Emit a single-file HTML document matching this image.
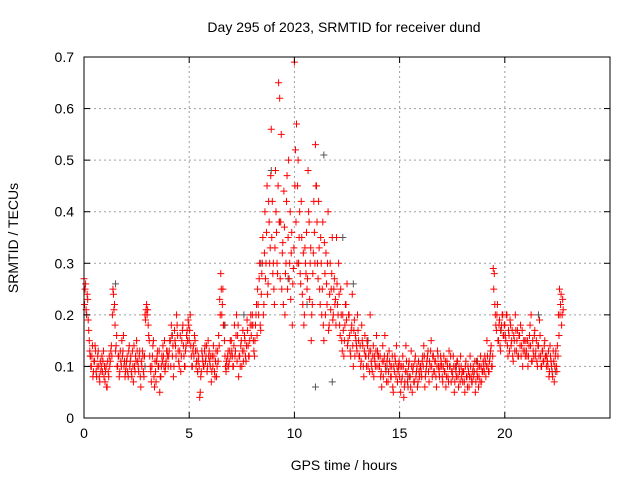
<!DOCTYPE html>
<html><head><meta charset="utf-8"><style>
body{margin:0;background:#fff}
svg{display:block;font-family:"Liberation Sans",sans-serif}
</style></head><body>
<svg id="chart" width="640" height="480" viewBox="0 0 640 480">
<rect x="0" y="0" width="640" height="480" fill="#fff"/>
<g id="grid"></g>
<g id="grey-series"></g>
<g id="red-series"></g>
<rect x="84" y="57" width="526" height="361" fill="none" stroke="#000" stroke-width="1"/>
<g id="axes"></g>
<text x="344" y="32" text-anchor="middle" font-size="14">Day 295 of 2023, SRMTID for receiver dund</text>
<text x="344" y="470" text-anchor="middle" font-size="14">GPS time / hours</text>
<text transform="translate(18,238) rotate(-90)" text-anchor="middle" font-size="14">SRMTID / TECUs</text>
</svg>
<script>
const xTicks=[0,5,10,15,20];
const yTicks=[0,0.1,0.2,0.3,0.4,0.5,0.6,0.7];
const yTickLabels=["0","0.1","0.2","0.3","0.4","0.5","0.6","0.7"];
// Series A: sampled every 0.05 h starting at 0 h
const seriesAStart=0, seriesAStep=0.05;
const seriesAValues=[
0.27,0.25,0.21,0.24,0.19,0.15,0.12,0.1,0.14,0.09,0.11,0.13,0.08,0.12,0.1,0.07,0.09,0.12,0.11,0.08,
0.07,0.1,0.06,0.09,0.12,0.11,0.14,0.2,0.24,0.22,0.13,0.16,0.1,0.12,0.09,0.11,0.15,0.13,0.1,0.08,
0.1,0.12,0.08,0.14,0.11,0.09,0.13,0.07,0.1,0.12,0.15,0.11,0.09,0.13,0.06,0.1,0.12,0.08,0.2,0.21,
0.2,0.18,0.15,0.1,0.07,0.12,0.15,0.06,0.09,0.11,0.13,0.1,0.05,0.08,0.12,0.14,0.1,0.09,0.11,0.13,
0.1,0.13,0.15,0.18,0.12,0.08,0.17,0.14,0.2,0.16,0.11,0.13,0.09,0.15,0.18,0.12,0.1,0.14,0.17,0.19,
0.15,0.2,0.12,0.1,0.14,0.16,0.13,0.11,0.09,0.12,0.04,0.08,0.13,0.11,0.1,0.14,0.12,0.09,0.15,0.13,
0.1,0.07,0.12,0.14,0.09,0.11,0.08,0.13,0.16,0.23,0.28,0.2,0.25,0.18,0.12,0.09,0.1,0.13,0.11,0.15,
0.15,0.12,0.1,0.18,0.13,0.2,0.16,0.08,0.12,0.14,0.1,0.17,0.13,0.15,0.11,0.19,0.14,0.12,0.18,0.16,
0.2,0.15,0.12,0.18,0.22,0.25,0.2,0.3,0.17,0.28,0.35,0.22,0.4,0.3,0.45,0.26,0.38,0.33,0.56,0.42,
0.3,0.22,0.48,0.36,0.28,0.65,0.62,0.38,0.25,0.34,0.44,0.2,0.3,0.47,0.35,0.27,0.4,0.32,0.18,0.29,
0.69,0.52,0.57,0.45,0.3,0.4,0.26,0.35,0.22,0.18,0.33,0.28,0.25,0.48,0.38,0.3,0.15,0.22,0.32,0.36,
0.53,0.45,0.3,0.42,0.25,0.35,0.2,0.38,0.15,0.28,0.32,0.22,0.4,0.18,0.3,0.25,0.35,0.2,0.27,0.23,
0.35,0.22,0.3,0.18,0.25,0.15,0.2,0.12,0.18,0.22,0.26,0.15,0.2,0.13,0.17,0.24,0.1,0.19,0.16,0.14,
0.2,0.15,0.12,0.1,0.18,0.14,0.08,0.16,0.12,0.15,0.1,0.13,0.2,0.11,0.09,0.14,0.12,0.1,0.16,0.13,
0.12,0.1,0.08,0.06,0.14,0.11,0.16,0.09,0.11,0.07,0.13,0.1,0.08,0.12,0.05,0.09,0.11,0.14,0.07,0.1,
0.08,0.05,0.1,0.12,0.04,0.07,0.14,0.09,0.06,0.11,0.08,0.13,0.05,0.1,0.07,0.12,0.09,0.06,0.11,0.08,
0.1,0.08,0.12,0.14,0.06,0.09,0.11,0.13,0.07,0.1,0.15,0.08,0.12,0.09,0.11,0.06,0.13,0.1,0.08,0.12,
0.1,0.07,0.12,0.09,0.06,0.11,0.08,0.13,0.1,0.07,0.09,0.12,0.05,0.1,0.08,0.11,0.06,0.09,0.12,0.08,
0.07,0.09,0.05,0.11,0.08,0.1,0.06,0.12,0.08,0.07,0.1,0.09,0.05,0.11,0.08,0.06,0.1,0.12,0.07,0.09,
0.1,0.12,0.08,0.15,0.1,0.09,0.12,0.14,0.1,0.29,0.28,0.2,0.17,0.22,0.15,0.19,0.13,0.18,0.2,0.16,
0.18,0.15,0.2,0.12,0.16,0.19,0.14,0.17,0.11,0.15,0.2,0.13,0.17,0.12,0.16,0.18,0.14,0.1,0.15,0.13,
0.15,0.12,0.1,0.14,0.18,0.2,0.11,0.13,0.16,0.12,0.15,0.1,0.14,0.19,0.12,0.1,0.13,0.11,0.15,0.12,
0.12,0.1,0.08,0.14,0.11,0.09,0.13,0.07,0.12,0.1,0.14,0.2,0.25,0.22,0.18,0.23];
// Series B: sampled every 0.05 h starting at 0.025 h
const seriesBStart=0.025, seriesBStep=0.05;
const seriesBValues=[
0.22,0.26,0.2,0.23,0.17,0.13,0.1,0.12,0.08,0.11,0.14,0.09,0.1,0.13,0.08,0.11,0.1,0.09,0.13,0.1,
0.09,0.06,0.11,0.08,0.1,0.13,0.12,0.25,0.21,0.18,0.14,0.1,0.12,0.08,0.13,0.1,0.12,0.16,0.11,0.09,
0.11,0.09,0.13,0.1,0.12,0.08,0.1,0.14,0.09,0.11,0.13,0.1,0.12,0.08,0.11,0.13,0.09,0.12,0.19,0.22,
0.21,0.16,0.12,0.09,0.1,0.14,0.08,0.11,0.07,0.12,0.1,0.13,0.08,0.1,0.11,0.12,0.15,0.1,0.13,0.12,
0.12,0.15,0.1,0.16,0.14,0.1,0.15,0.12,0.18,0.13,0.1,0.16,0.12,0.17,0.14,0.1,0.13,0.16,0.15,0.18,
0.17,0.14,0.1,0.13,0.12,0.15,0.1,0.13,0.11,0.1,0.05,0.09,0.12,0.1,0.13,0.11,0.14,0.1,0.12,0.11,
0.12,0.09,0.1,0.12,0.08,0.13,0.1,0.11,0.14,0.2,0.25,0.22,0.18,0.15,0.1,0.11,0.12,0.1,0.13,0.12,
0.13,0.1,0.14,0.12,0.16,0.11,0.18,0.12,0.1,0.15,0.13,0.11,0.16,0.12,0.14,0.17,0.12,0.15,0.2,0.18,
0.18,0.13,0.15,0.2,0.16,0.22,0.27,0.18,0.24,0.3,0.2,0.32,0.27,0.36,0.24,0.42,0.3,0.47,0.35,0.28,
0.25,0.33,0.4,0.3,0.45,0.38,0.27,0.55,0.32,0.22,0.37,0.28,0.42,0.25,0.5,0.3,0.23,0.36,0.26,0.33,
0.45,0.38,0.3,0.5,0.35,0.28,0.42,0.24,0.32,0.2,0.3,0.36,0.27,0.4,0.23,0.33,0.2,0.28,0.42,0.3,
0.45,0.38,0.27,0.33,0.22,0.3,0.25,0.18,0.34,0.2,0.26,0.3,0.17,0.24,0.21,0.28,0.19,0.25,0.22,0.18,
0.26,0.2,0.24,0.16,0.2,0.13,0.17,0.15,0.22,0.19,0.14,0.2,0.16,0.12,0.18,0.14,0.17,0.12,0.15,0.13,
0.17,0.12,0.14,0.11,0.15,0.1,0.13,0.12,0.1,0.14,0.12,0.09,0.13,0.1,0.12,0.08,0.11,0.13,0.1,0.12,
0.1,0.12,0.09,0.11,0.08,0.12,0.1,0.07,0.12,0.09,0.11,0.08,0.1,0.06,0.1,0.12,0.08,0.1,0.09,0.11,
0.1,0.07,0.08,0.1,0.06,0.09,0.11,0.07,0.1,0.08,0.06,0.1,0.09,0.07,0.11,0.08,0.1,0.07,0.09,0.1,
0.09,0.11,0.1,0.12,0.08,0.1,0.12,0.09,0.11,0.13,0.1,0.12,0.09,0.11,0.08,0.1,0.12,0.09,0.1,0.11,
0.08,0.1,0.09,0.11,0.08,0.1,0.07,0.1,0.12,0.09,0.08,0.1,0.07,0.09,0.11,0.08,0.1,0.07,0.1,0.09,
0.09,0.07,0.1,0.08,0.06,0.09,0.08,0.1,0.07,0.09,0.08,0.11,0.07,0.09,0.1,0.08,0.07,0.1,0.09,0.11,
0.09,0.11,0.1,0.12,0.09,0.11,0.13,0.1,0.12,0.25,0.22,0.18,0.2,0.15,0.18,0.14,0.17,0.2,0.16,0.18,
0.16,0.2,0.14,0.17,0.13,0.18,0.15,0.12,0.16,0.13,0.17,0.15,0.12,0.16,0.14,0.12,0.17,0.13,0.15,0.12,
0.13,0.15,0.12,0.16,0.14,0.11,0.15,0.12,0.17,0.13,0.11,0.14,0.12,0.16,0.1,0.13,0.11,0.14,0.12,0.1,
0.11,0.13,0.09,0.12,0.1,0.08,0.11,0.1,0.13,0.09,0.12,0.16,0.2,0.24,0.2,0.21];
const greyX=[0.3,1.5,2.9,4.2,5.4,6.7,7.6,8.4,8.9,9.3,9.7,10.2,10.6,11.0,11.4,11.8,12.3,12.8,13.5,14.4,15.4,16.6,17.7,18.7,19.8,20.7,21.6,22.4];
const greyY=[0.12,0.26,0.1,0.16,0.09,0.18,0.2,0.3,0.48,0.38,0.27,0.3,0.22,0.06,0.51,0.07,0.35,0.26,0.15,0.1,0.08,0.12,0.1,0.11,0.17,0.16,0.2,0.09];
const X0=84,X1=610,Y0=418,Y1=57,XMAX=25,YMAX=0.7;
const sx=v=>X0+(X1-X0)*v/XMAX;
const sy=v=>Y0-(Y0-Y1)*v/YMAX;
const NS="http://www.w3.org/2000/svg";
const grid=document.getElementById('grid'),axes=document.getElementById('axes');
function mk(tag,attrs,parent){const e=document.createElementNS(NS,tag);for(const k in attrs)e.setAttribute(k,attrs[k]);parent.appendChild(e);return e;}
xTicks.forEach(t=>{
  const x=sx(t);
  if(t>0){const g=mk('line',{x1:x,y1:Y0,x2:x,y2:Y1,stroke:'#a0a0a0','stroke-dasharray':'2,3'},grid);
  
  }
  mk('line',{x1:x,y1:Y0,x2:x,y2:Y0-6,stroke:'#000'},axes);
  mk('line',{x1:x,y1:Y1,x2:x,y2:Y1+6,stroke:'#000'},axes);
  const tx=mk('text',{x:x,y:Y0+20,'text-anchor':'middle','font-size':'14'},axes);
  tx.textContent=String(t);
  
  
});
yTicks.forEach((t,i)=>{
  const y=sy(t);
  if(t>0&&t<0.7){const g=mk('line',{x1:X0,y1:y,x2:X1,y2:y,stroke:'#a0a0a0','stroke-dasharray':'2,3'},grid);
  
  }
  mk('line',{x1:X0,y1:y,x2:X0+6,y2:y,stroke:'#000'},axes);
  mk('line',{x1:X1,y1:y,x2:X1-6,y2:y,stroke:'#000'},axes);
  const tx=mk('text',{x:X0-10,y:y+5,'text-anchor':'end','font-size':'14'},axes);
  tx.textContent=yTickLabels[i];
  
  
});
function plus(px,py,col,parent){
  return mk('path',{d:`M${px-3.5},${py}H${px+3.5}M${px},${py-3.5}V${py+3.5}`,stroke:col,'stroke-width':'1',fill:'none'},parent);
}
const gg=document.getElementById('grey-series');
greyX.forEach((v,i)=>{
  const p=plus(sx(v),sy(greyY[i]),'#555',gg);
  
  
});
const rg=document.getElementById('red-series');
seriesAValues.forEach((v,i)=>{
  const p=plus(sx(seriesAStart+i*seriesAStep),sy(v),'#ff0000',rg);
  
  
});
seriesBValues.forEach((v,i)=>{
  const p=plus(sx(seriesBStart+i*seriesBStep),sy(v),'#ff0000',rg);
  
  
});
</script>
</body></html>
